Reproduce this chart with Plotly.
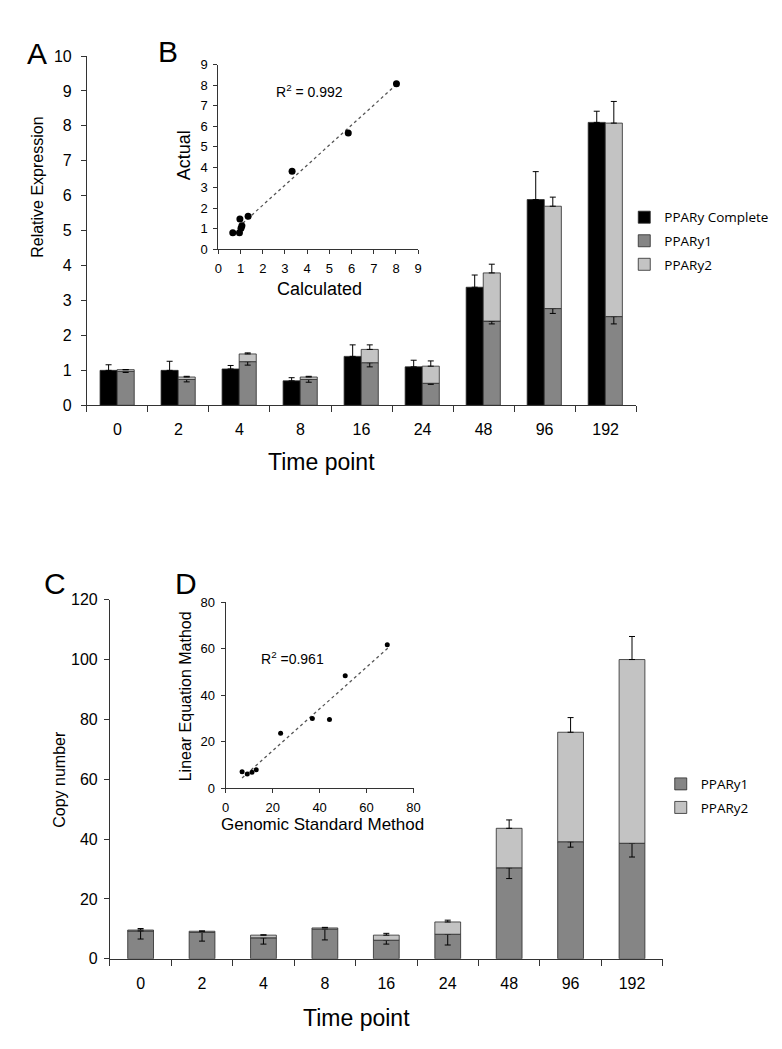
import numpy as np
import plotly.graph_objects as go

W, H = 782, 1049

# ---------------- data ----------------
time_points = ["0", "2", "4", "8", "16", "24", "48", "96", "192"]

# Panel A: relative expression
complete_rel = [1.00, 1.00, 1.04, 0.70, 1.40, 1.10, 3.38, 5.89, 8.10]
complete_rel_err = [0.16, 0.26, 0.10, 0.09, 0.33, 0.19, 0.35, 0.80, 0.32]
ppar1_rel = [0.97, 0.74, 1.25, 0.74, 1.22, 0.63, 2.41, 2.77, 2.54]
ppar1_rel_err = [0.03, 0.07, 0.10, 0.08, 0.12, 0.03, 0.08, 0.14, 0.21]
ppar2_rel = [0.05, 0.07, 0.22, 0.07, 0.38, 0.49, 1.38, 2.93, 5.54]
ppar2_rel_err = [0.00, 0.02, 0.03, 0.02, 0.13, 0.15, 0.25, 0.26, 0.62]

# Panel B: calculated vs actual
b_calculated = [0.65, 0.95, 0.97, 1.02, 1.06, 1.34, 3.32, 5.85, 8.02]
b_actual = [0.80, 0.80, 1.47, 1.02, 1.14, 1.60, 3.80, 5.66, 8.06]
b_r2_label = "R<sup>2</sup> = 0.992"

# Panel C: copy number
ppar1_cn = [9.3, 8.8, 7.0, 9.9, 6.2, 8.2, 30.4, 39.1, 38.6]
ppar1_cn_err = [2.7, 2.9, 2.1, 3.6, 1.3, 3.6, 3.6, 1.8, 4.6]
ppar2_cn = [0.3, 0.4, 0.9, 0.4, 1.7, 4.1, 13.2, 36.6, 61.4]
ppar2_cn_err = [0.5, 0.1, 0.1, 0.2, 0.6, 0.6, 2.8, 4.9, 7.7]

# Panel D: genomic standard vs linear equation
d_genomic = [7.0, 9.2, 11.2, 13.0, 23.4, 36.9, 44.2, 50.9, 68.8]
d_linear = [7.1, 6.1, 6.9, 8.0, 23.7, 30.0, 29.6, 48.4, 61.7]
d_r2_label = "R<sup>2</sup> =0.961"

# ---------------- styling ----------------
BLACK = "#000000"
DARK = "#858585"
LIGHT = "#c3c3c3"
EDGE = "#2a2a2a"
AX = "#333333"
ARIAL = "Liberation Sans, Arial, sans-serif"
LEG_FONT = "Open Sans, sans-serif"


def px(x):
    return x / W


def py(y):
    return 1 - y / H


def errbar(plus, minus, sym=False):
    return dict(type="data", array=plus, arrayminus=minus, symmetric=sym,
                color=BLACK, thickness=1, width=3)


zeros = [0] * len(time_points)

fig = go.Figure()

# Panel A bars
fig.add_trace(go.Bar(
    x=time_points, y=complete_rel, name="PPARy Complete",
    marker=dict(color=BLACK, line=dict(color=EDGE, width=0.8)),
    width=0.28, offset=-0.285,
    error_y=errbar(complete_rel_err, zeros),
    xaxis="x", yaxis="y", legend="legend", legendgroup="a1"))
fig.add_trace(go.Bar(
    x=time_points, y=ppar1_rel, name="PPARy1",
    marker=dict(color=DARK, line=dict(color=EDGE, width=0.8)),
    width=0.28, offset=-0.005,
    error_y=errbar(zeros, ppar1_rel_err),
    xaxis="x", yaxis="y", legend="legend", legendgroup="a2"))
fig.add_trace(go.Bar(
    x=time_points, y=ppar2_rel, base=ppar1_rel, name="PPARy2",
    marker=dict(color=LIGHT, line=dict(color=EDGE, width=0.8)),
    width=0.28, offset=-0.005,
    error_y=errbar(ppar2_rel_err, zeros),
    xaxis="x", yaxis="y", legend="legend", legendgroup="a3"))

# Panel B scatter + trend
cb = np.polyfit(b_calculated, b_actual, 1)
bx = [min(b_calculated) + 0.25, max(b_calculated) + 0.1]
fig.add_trace(go.Scatter(
    x=bx, y=[cb[0] * v + cb[1] for v in bx], mode="lines",
    line=dict(color="#555555", width=1.3, dash="dot"),
    showlegend=False, xaxis="x2", yaxis="y2", hoverinfo="skip"))
fig.add_trace(go.Scatter(
    x=b_calculated, y=b_actual, mode="markers",
    marker=dict(color=BLACK, size=7),
    showlegend=False, xaxis="x2", yaxis="y2"))

# Panel C bars
fig.add_trace(go.Bar(
    x=time_points, y=ppar1_cn, name="PPARy1",
    marker=dict(color=DARK, line=dict(color=EDGE, width=0.8)),
    width=0.42, offset=-0.21,
    error_y=errbar(zeros, ppar1_cn_err),
    xaxis="x3", yaxis="y3", legend="legend2", legendgroup="c1"))
fig.add_trace(go.Bar(
    x=time_points, y=ppar2_cn, base=ppar1_cn, name="PPARy2",
    marker=dict(color=LIGHT, line=dict(color=EDGE, width=0.8)),
    width=0.42, offset=-0.21,
    error_y=errbar(ppar2_cn_err, zeros),
    xaxis="x3", yaxis="y3", legend="legend2", legendgroup="c2"))

# Panel D scatter + trend
cd = np.polyfit(d_genomic, d_linear, 1)
dx = [min(d_genomic), max(d_genomic) + 1]
fig.add_trace(go.Scatter(
    x=dx, y=[cd[0] * v + cd[1] for v in dx], mode="lines",
    line=dict(color="#555555", width=1.3, dash="dot"),
    showlegend=False, xaxis="x4", yaxis="y4", hoverinfo="skip"))
fig.add_trace(go.Scatter(
    x=d_genomic, y=d_linear, mode="markers",
    marker=dict(color=BLACK, size=5),
    showlegend=False, xaxis="x4", yaxis="y4"))

# ---------------- axes ----------------
def cat_axis(dom, anchor):
    return dict(domain=dom, anchor=anchor, type="category",
                showline=True, linecolor=AX, linewidth=1,
                ticks="outside", tickson="boundaries", ticklen=6,
                tickcolor=AX, showgrid=False, zeroline=False,
                tickfont=dict(family=ARIAL, size=16, color=BLACK),
                ticklabelstandoff=10, range=[-0.5, 8.5])


def val_axis(dom, anchor, rng, dtick, size, standoff=4, ticklen=5):
    return dict(domain=dom, anchor=anchor, range=rng, dtick=dtick,
                showline=True, linecolor=AX, linewidth=1,
                ticks="outside", ticklen=ticklen, tickcolor=AX,
                showgrid=False, zeroline=False,
                tickfont=dict(family=ARIAL, size=size, color=BLACK),
                ticklabelstandoff=standoff)


layout = dict(
    width=W, height=H,
    margin=dict(l=0, r=0, t=0, b=0),
    paper_bgcolor="white", plot_bgcolor="rgba(0,0,0,0)",
    barmode="overlay",
    xaxis=cat_axis([px(76), px(633)], "y"),
    yaxis=val_axis([py(395.7), py(40.7)], "x", [0, 10], 1, 16, standoff=6),
    xaxis2=val_axis([px(209.3), px(412)], "y2", [0, 9], 1, 13, standoff=3, ticklen=4),
    yaxis2=val_axis([py(237), py(49.3)], "x2", [0, 9], 1, 13, standoff=3, ticklen=4),
    xaxis3=cat_axis([px(99.3), px(660)], "y3"),
    yaxis3=val_axis([py(958.3), py(593.3)], "x3", [0, 120], 20, 16, standoff=3),
    xaxis4=val_axis([px(216.7), px(407.3)], "y4", [0, 80], 20, 13, standoff=3, ticklen=4),
    yaxis4=val_axis([py(785), py(596)], "x4", [0, 80], 20, 13, standoff=3, ticklen=4),
    legend=dict(x=px(621), y=py(189), xanchor="left", yanchor="top",
                font=dict(family=LEG_FONT, size=13.5, color=BLACK),
                bgcolor="rgba(0,0,0,0)", traceorder="grouped",
                tracegroupgap=3, itemclick=False),
    legend2=dict(x=px(658), y=py(765), xanchor="left", yanchor="top",
                 font=dict(family=LEG_FONT, size=13.5, color=BLACK),
                 bgcolor="rgba(0,0,0,0)", traceorder="grouped",
                 tracegroupgap=3, itemclick=False),
    showlegend=True,
)
fig.update_layout(**layout)


def ann(text, x, y, size, angle=0, family=ARIAL):
    fig.add_annotation(text=text, x=px(x), y=py(y), xref="paper", yref="paper",
                       showarrow=False, textangle=angle,
                       xanchor="center", yanchor="middle",
                       font=dict(family=family, size=size, color=BLACK))


ann("A", 25, 38, 30)
ann("B", 158, 36, 30)
ann("C", 44, 577, 30)
ann("D", 176, 577, 30)

ann("Relative Expression", 26, 174, 16, angle=-90)
ann("Time point", 314, 453, 23)
ann("Actual", 174, 142, 18, angle=-90)
ann("Calculated", 312, 277, 18)
ann(b_r2_label, 302, 76, 14)

ann("Copy number", 48, 776, 16, angle=-90)
ann("Time point", 349, 1018, 23)
ann("Linear Equation Mathod", 176, 692, 16, angle=-90)
ann("Genomic Standard Method", 315, 822, 17)
ann(d_r2_label, 284, 653, 14)

fig.write_html("out.html")
